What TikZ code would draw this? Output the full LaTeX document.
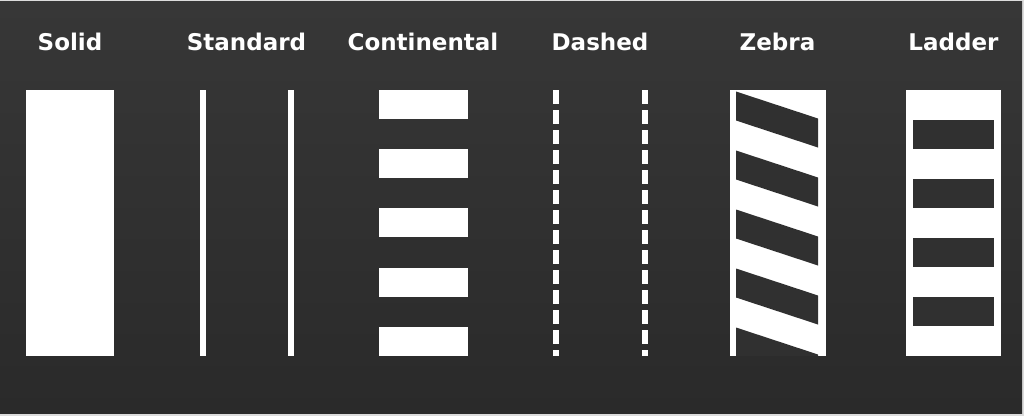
\documentclass[tikz,border=0pt]{standalone}
\usepackage{fontspec}
\setmainfont{DejaVu Sans}
\begin{document}
\begin{tikzpicture}[x=1pt,y=-1pt,
  lbl/.style={anchor=base, text=white, font=\fontsize{23}{27}\selectfont\bfseries, inner sep=0pt},
  paint/.style={fill=white, draw=none},
  hole/.style={fill=bgdark, draw=none}]
\definecolor{frame}{HTML}{DCDCDC}
\definecolor{bgtop}{HTML}{373737}
\definecolor{bgbot}{HTML}{2A2A2A}
\definecolor{bgdark}{HTML}{303030}
\useasboundingbox (0,0) rectangle (1024,416);
\fill[frame] (0,0) rectangle (1024,416);
\shade[top color=bgtop, bottom color=bgbot] (0,1.5) rectangle (1022,413);
% labels
\node[lbl] (lsolid) at (70,50) {Solid};
\node[lbl] (lstd) at (246.5,50) {Standard};
\node[lbl] (lcont) at (423,50) {Continental};
\node[lbl] (ldash) at (600,50) {Dashed};
\node[lbl] (lzeb) at (777.5,50) {Zebra};
\node[lbl] (llad) at (953.5,50) {Ladder};
% Solid
\fill[paint] (26,90) rectangle (114,355.5);
% Standard
\fill[paint] (200,90) rectangle (206,355.5);
\fill[paint] (287.5,90) rectangle (293.5,355.5);
% Continental
\foreach \k in {0,...,4}{
  \fill[paint] (379,90+59.2*\k) rectangle (467.5,119+59.2*\k);
}
% Dashed
\draw[white, line width=6pt, dash pattern=on 14pt off 6pt] (556,90) -- (556,355.5);
\draw[white, line width=6pt, dash pattern=on 14pt off 6pt] (644.5,90) -- (644.5,355.5);
% Zebra
\fill[paint] (729.5,89.5) rectangle (825.5,355.5);
\begin{scope}
  \clip (736,90) rectangle (818,355.5);
  \foreach \k in {0,...,4}{
    \fill[hole] (736,91.5+59*\k) -- (818,118.5+59*\k) -- (818,147.5+59*\k) -- (736,120.5+59*\k) -- cycle;
  }
\end{scope}
% Ladder
\fill[paint] (906,89.5) rectangle (1001,355.5);
\foreach \k in {0,...,3}{
  \fill[hole] (913,120+59*\k) rectangle (994,149+59*\k);
}
\end{tikzpicture}
\end{document}
